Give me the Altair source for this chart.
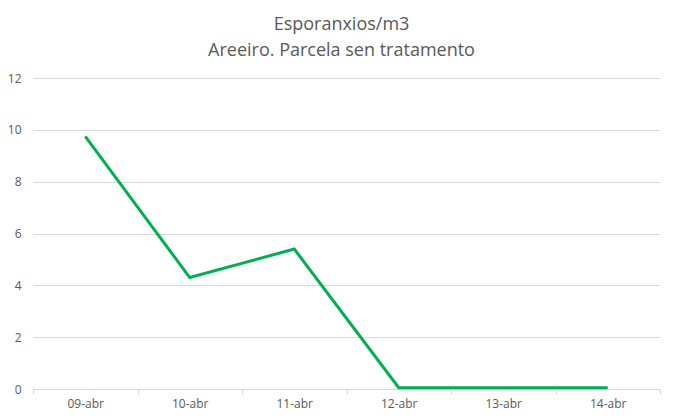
import altair as alt
import pandas as pd

dates = ["09-abr", "10-abr", "11-abr", "12-abr", "13-abr", "14-abr"]
values = [9.75, 4.3, 5.4, 0.05, 0.05, 0.05]

df = pd.DataFrame({"fecha": dates, "valor": values})

FONT = "Open Sans"
GREY = "#595959"

chart = alt.Chart(df).mark_line(color="#00B050", strokeWidth=3).encode(
    x=alt.X(
        "fecha:N",
        sort=dates,
        bandPosition=0.5,
        scale=alt.Scale(type="band", paddingInner=0, paddingOuter=0),
        axis=alt.Axis(
            title=None, labelAngle=0, labelFont=FONT, labelFontSize=12,
            labelColor=GREY, domainColor="#d9d9d9", tickColor="#d9d9d9",
            tickSize=5, tickBand="extent", labelPadding=4, grid=False,
        ),
    ),
    y=alt.Y(
        "valor:Q",
        scale=alt.Scale(domain=[0, 12]),
        axis=alt.Axis(
            title=None, values=[0, 2, 4, 6, 8, 10, 12], labelFont=FONT,
            labelFontSize=12, labelColor=GREY, domain=False, ticks=False,
            labelPadding=12, gridColor="#d9d9d9", gridWidth=1,
        ),
    ),
).properties(
    width=627,
    height=311,
    autosize=alt.AutoSizeParams(type="none"),
    padding={"left": 25, "top": 70, "right": 5, "bottom": 22},
    title=alt.TitleParams(
        text=["Esporanxios/m3", "Areeiro. Parcela sen tratamento"],
        font=FONT, fontSize=18, fontWeight="normal", color=GREY,
        lineHeight=26, anchor="middle", offset=12, dx=-5,
    ),
).configure_view(stroke=None)

chart.save("out.html", embed_options={"renderer": "svg", "actions": False})
